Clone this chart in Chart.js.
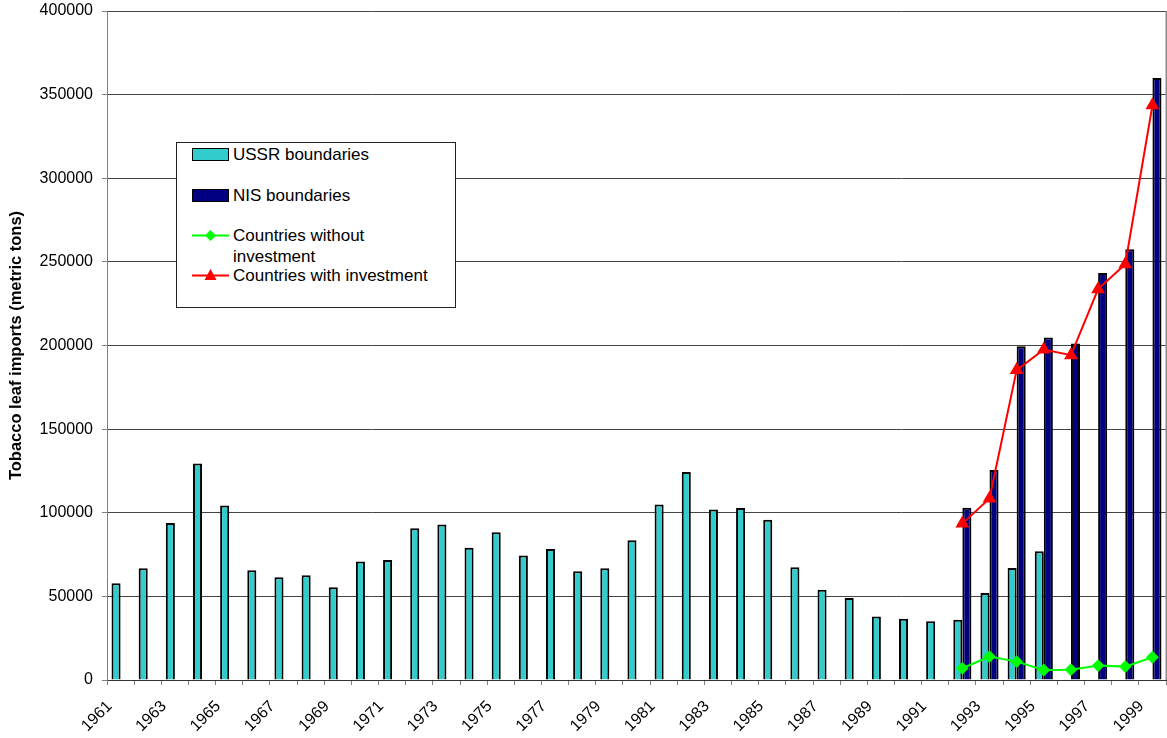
<!DOCTYPE html>
<html>
<head>
<meta charset="utf-8">
<script src="https://cdn.jsdelivr.net/npm/chart.js@4"></script>
<style>
  html, body { margin: 0; padding: 0; background: #fff; }
  #wrap { position: relative; width: 1167px; height: 738px; }
  #legend {
    position: absolute; left: 176px; top: 142px; width: 278px; height: 164px;
    border: 1px solid #222; background: #fff;
    font-family: "Liberation Sans", Arial, sans-serif; font-size: 17px; color: #000;
  }
  .item { position: absolute; left: 15px; display: flex; align-items: flex-start; }
  .item span { display: block; margin-left: 4px; line-height: 21px; }
  .box { width: 35px; height: 11px; border: 1px solid #000; margin-top: 4px; }
</style>
</head>
<body>
<div id="wrap">
  <canvas id="chart" width="1167" height="738"></canvas>
  <div id="legend">
    <div class="item" style="top:1px"><div class="box" style="background:#33cccc"></div><span>USSR boundaries</span></div>
    <div class="item" style="top:42px"><div class="box" style="background:#000080"></div><span>NIS boundaries</span></div>
    <div class="item" style="top:82px">
      <svg width="37" height="21"><line x1="0" y1="10.5" x2="37" y2="10.5" stroke="#00ff00" stroke-width="2"/><polygon points="18.5,5 24,10.5 18.5,16 13,10.5" fill="#00ff00"/></svg>
      <span>Countries without<br>investment</span>
    </div>
    <div class="item" style="top:122px">
      <svg width="37" height="21"><line x1="0" y1="10.5" x2="37" y2="10.5" stroke="#ff0000" stroke-width="2"/><polygon points="18.5,4 24.5,15 12.5,15" fill="#ff0000"/></svg>
      <span>Countries with investment</span>
    </div>
  </div>
</div>
<script>
// categories: 1961 .. 1999
const years = [];
for (let y = 1961; y <= 1999; y++) years.push(String(y));

// tobacco leaf imports, metric tons (USSR boundaries, 1961-1995)
const ussrValues = [
  57800, 66800, 93800, 129400, 104400, 65600, 61400, 62600, 55400, 70800,
  71800, 90800, 93000, 79000, 88400, 74400, 78400, 65000, 66800, 83600,
  105000, 124400, 102000, 102800, 95800, 67400, 54000, 49000, 38000, 36600,
  35200, 36000, 52000, 67000, 77000, null, null, null, null
];

// NIS boundaries, 1992-1999
const nisValues = [
  null, null, null, null, null, null, null, null, null, null,
  null, null, null, null, null, null, null, null, null, null,
  null, null, null, null, null, null, null, null, null, null,
  null, 103000, 125600, 199600, 204800, 201200, 243400, 257600, 360000
];

// lines, 1992-1999
const withoutInvestment = [
  null, null, null, null, null, null, null, null, null, null,
  null, null, null, null, null, null, null, null, null, null,
  null, null, null, null, null, null, null, null, null, null,
  null, 7000, 14000, 11000, 6000, 6200, 8600, 8000, 13600
];
const withInvestment = [
  null, null, null, null, null, null, null, null, null, null,
  null, null, null, null, null, null, null, null, null, null,
  null, null, null, null, null, null, null, null, null, null,
  null, 93500, 108500, 185300, 197600, 194200, 233700, 248600, 343600
];

const yMin = 0, yMax = 400000, yStep = 50000;

const fontFamily = '"Liberation Sans", Arial, sans-serif';

const rightBorder = {
  id: 'rightBorder',
  afterDraw(chart) {
    const a = chart.chartArea, ctx = chart.ctx;
    ctx.save();
    ctx.strokeStyle = '#8c8c8c';
    ctx.lineWidth = 1.5;
    ctx.beginPath();
    ctx.moveTo(a.right + 0.25, a.top);
    ctx.lineTo(a.right + 0.25, a.bottom);
    ctx.stroke();
    ctx.restore();
  }
};

new Chart(document.getElementById('chart'), {
  type: 'bar',
  data: {
    labels: years,
    datasets: [
      {
        type: 'line', label: 'Countries without investment', data: withoutInvestment,
        borderColor: '#00ff00', backgroundColor: '#00ff00', borderWidth: 2,
        pointStyle: 'rectRot', pointRadius: 5, pointHoverRadius: 5, order: 0, clip: false
      },
      {
        type: 'line', label: 'Countries with investment', data: withInvestment,
        borderColor: '#ff0000', backgroundColor: '#ff0000', borderWidth: 2,
        pointStyle: 'triangle', pointRadius: 6, pointHoverRadius: 6, order: 0, clip: false
      },
      {
        label: 'USSR boundaries', data: ussrValues,
        backgroundColor: '#33cccc', borderColor: '#000', borderWidth: 2, order: 1
      },
      {
        label: 'NIS boundaries', data: nisValues,
        backgroundColor: '#000080', borderColor: '#000', borderWidth: 2, order: 1
      }
    ]
  },
  options: {
    responsive: false,
    animation: false,
    categoryPercentage: 0.667,
    barPercentage: 1.0,
    layout: { autoPadding: false, padding: { left: 0, right: 1, top: 11, bottom: 0 } },
    plugins: {
      legend: { display: false },
      tooltip: { enabled: false }
    },
    scales: {
      x: {
        offset: true,
        afterFit: function(scale) {
          scale.height = 58;
          scale.paddingLeft = 0;
          scale.paddingRight = 0;
        },
        grid: {
          offset: true, drawOnChartArea: false, drawTicks: true,
          tickLength: 5, tickColor: '#808080'
        },
        border: { color: '#333', width: 1 },
        ticks: {
          autoSkip: false, maxRotation: 45, minRotation: 45,
          color: '#000', font: { family: fontFamily, size: 16 },
          padding: 12, labelOffset: -11,
          callback: function(value, index) {
            return index % 2 === 0 ? this.getLabelForValue(value) : '';
          }
        }
      },
      y: {
        min: yMin, max: yMax,
        afterFit: function(scale) {
          scale.width = 107;
          scale.paddingTop = 0;
          scale.paddingBottom = 0;
        },
        grid: { color: '#444', lineWidth: 1, tickLength: 5, tickColor: '#808080' },
        border: { color: '#808080', width: 1 },
        ticks: {
          stepSize: yStep, color: '#000', padding: 9,
          font: { family: fontFamily, size: 16 },
          callback: function(value) { return String(value); }
        },
        title: {
          display: true, text: 'Tobacco leaf imports (metric tons)', color: '#000',
          font: { family: fontFamily, size: 16.5, weight: 'bold' },
          padding: { top: 7, bottom: 0 }
        }
      }
    }
  },
  plugins: [rightBorder]
});
</script>
</body>
</html>
